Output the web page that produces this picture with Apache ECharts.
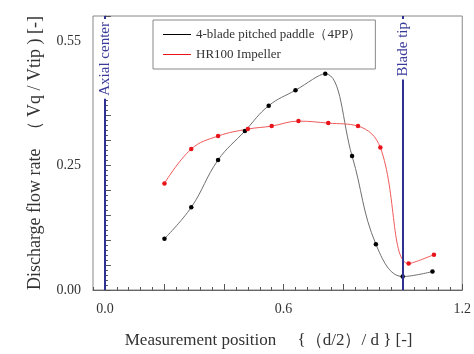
<!DOCTYPE html>
<html><head><meta charset="utf-8">
<script src="https://cdn.jsdelivr.net/npm/echarts@6/dist/echarts.min.js"></script>
<style>html,body{margin:0;padding:0;background:#fff}#c{width:474px;height:354px}</style>
</head><body><div id="c"></div>
<script>
// Data
const pos4PP = [0.20, 0.29, 0.38, 0.47, 0.55, 0.64, 0.74, 0.83, 0.91, 1.00, 1.10];
const val4PP = [0.103, 0.166, 0.261, 0.319, 0.370, 0.401, 0.434, 0.269, 0.092, 0.027, 0.037];
const posHR = [0.20, 0.29, 0.38, 0.48, 0.56, 0.65, 0.75, 0.85, 0.925, 1.02, 1.105];
const valHR = [0.214, 0.283, 0.309, 0.323, 0.329, 0.339, 0.335, 0.329, 0.286, 0.053, 0.071];
const seriesNames = ['4-blade pitched paddle（4PP）', 'HR100 Impeller'];
const xMajorTicks = [0, 0.2, 0.4, 0.6, 0.8, 1.0, 1.2];
const xLabelValues = [0, 0.6, 1.2];
const xTickLabels = ['0.0', '0.6', '1.2'];
const yLabelValues = [0, 0.25, 0.5];
const yTickLabels = ['0.00', '0.25', '0.55'];
const refLines = [{x: 0, text: 'Axial center'}, {x: 1.0, text: 'Blade tip'}];

const FONT = 'Liberation Serif';
const chart = echarts.init(document.getElementById('c'), null, {renderer: 'canvas'});
function lookup(vals, labels, v){ const i = vals.findIndex(a => Math.abs(a - v) < 1e-6); return i >= 0 ? labels[i] : ''; }
const xMin = -0.04, xMax = 1.2;
chart.setOption({
  animation: false,
  backgroundColor: '#fff',
  textStyle: {fontFamily: FONT},
  grid: {left: 93, top: 16, right: 6, bottom: 62, show: true, borderColor: '#888', borderWidth: 1},
  legend: {
    left: 153, top: 20, orient: 'vertical',
    padding: [8, 14, 8, 10], itemGap: 7,
    borderColor: '#888', borderWidth: 1,
    icon: 'rect', itemWidth: 28, itemHeight: 1,
    textStyle: {fontFamily: FONT, fontSize: 13, color: '#333'},
    data: seriesNames
  },
  xAxis: [{
    type: 'value', min: xMin, max: xMax, position: 'bottom',
    name: 'Measurement position　 {（d/2）/ d } [-]', nameLocation: 'middle', nameGap: 42,
    nameTextStyle: {fontFamily: FONT, fontSize: 17, color: '#333', padding: [0, 18, 0, 0]},
    axisLine: {show: true, lineStyle: {color: '#666', width: 1}},
    axisTick: {show: true, inside: true, length: 6, lineStyle: {color: '#555'}, customValues: xMajorTicks},
    splitLine: {show: false},
    axisLabel: {fontFamily: FONT, fontSize: 14, color: '#333', margin: 12,
      customValues: xLabelValues,
      formatter: v => lookup(xLabelValues, xTickLabels, v)}
  }, {
    type: 'value', min: xMin, max: xMax, interval: 0.04, position: 'bottom',
    axisLine: {show: false}, splitLine: {show: false}, axisLabel: {show: false},
    axisTick: {show: true, inside: true, length: 3, lineStyle: {color: '#555'}}
  }],
  yAxis: {
    type: 'value', min: 0, max: 0.55, interval: 0.05,
    name: 'Discharge flow rate  （ Vq / Vtip ) [-]', nameLocation: 'middle', nameGap: 49,
    nameTextStyle: {fontFamily: FONT, fontSize: 18, color: '#333'},
    axisLine: {show: true, lineStyle: {color: '#666', width: 1}},
    axisTick: {show: true, inside: true, length: 6, lineStyle: {color: '#555'}},
    minorTick: {show: true, splitNumber: 5, length: 3, lineStyle: {color: '#555'}},
    splitLine: {show: false},
    axisLabel: {fontFamily: FONT, fontSize: 14, color: '#333', margin: 12,
      customValues: yLabelValues,
      formatter: v => lookup(yLabelValues, yTickLabels, v)}
  },
  series: [{
    name: seriesNames[0], type: 'line', xAxisIndex: 0,
    data: pos4PP.map((x, i) => [x, val4PP[i]]),
    smooth: 0.4, symbol: 'circle', symbolSize: 4.5,
    itemStyle: {color: '#000'}, lineStyle: {color: '#707070', width: 1},
    markLine: {
      silent: true, symbol: 'none', animation: false,
      lineStyle: {color: '#2e3192', width: 2, type: 'solid'},
      label: {show: true, position: 'insideEnd', distance: 3, fontFamily: FONT, fontSize: 15,
        color: '#3a3a9a', backgroundColor: '#fff', padding: [1, 3],
        formatter: p => p.name},
      data: refLines.map(r => ({xAxis: r.x, name: r.text}))
    }
  }, {
    name: seriesNames[1], type: 'line', xAxisIndex: 0,
    data: posHR.map((x, i) => [x, valHR[i]]),
    smooth: 0.4, symbol: 'circle', symbolSize: 4.5,
    itemStyle: {color: '#e8141a'}, lineStyle: {color: '#f05a5a', width: 1}
  }]
});
</script></body></html>
